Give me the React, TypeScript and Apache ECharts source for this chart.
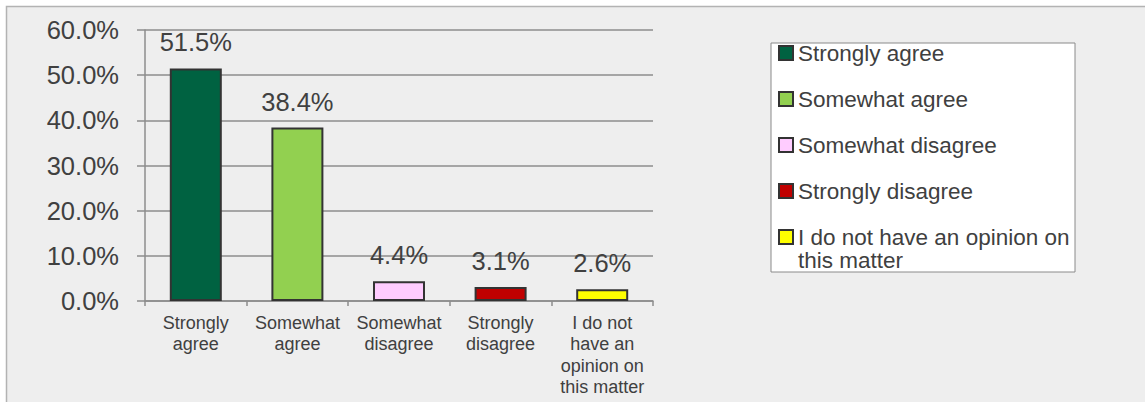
import React, { useEffect, useRef } from "react";
import * as echarts from "echarts";

const categories = [
  "Strongly\nagree",
  "Somewhat\nagree",
  "Somewhat\ndisagree",
  "Strongly\ndisagree",
  "I do not\nhave an\nopinion on\nthis matter",
];
const seriesNames = [
  "Strongly agree",
  "Somewhat agree",
  "Somewhat disagree",
  "Strongly disagree",
  "I do not have an opinion on this matter",
];
const values = [51.5, 38.4, 4.4, 3.1, 2.6];
const colors = ["#006241", "#92d050", "#ffccff", "#c00000", "#ffff00"];
const yTicks = { min: 0, max: 60, interval: 10 };

const FONT = "'Liberation Sans', Arial, sans-serif";
const TEXT = "#404040";

export default function App() {
  const ref = useRef<HTMLDivElement>(null);
  useEffect(() => {
    if (!ref.current) return;
    const chart = echarts.init(ref.current, null, { renderer: "svg" });
    const series = seriesNames.map((name, i) => ({
      name,
      type: "bar",
      stack: "all",
      barWidth: 52,
      data: values.map((v, j) => (j === i ? v : "-")),
      itemStyle: { color: colors[i], borderColor: "#333333", borderWidth: 2 },
      label: {
        show: true,
        position: "top",
        distance: 13,
        fontSize: 25.5,
        fontFamily: FONT,
        color: TEXT,
        formatter: (p: any) => `${Number(p.value).toFixed(1)}%`,
      },
    }));
    chart.setOption({
      animation: false,
      graphic: [
        {
          type: "rect",
          z: -10,
          shape: { x: 6.5, y: 6.5, width: 1300, height: 600 },
          style: { fill: "#eeeeee", stroke: "#b3b3b3", lineWidth: 1.5 },
        },
        {
          type: "rect",
          z: 1,
          shape: { x: 771, y: 43, width: 304, height: 229 },
          style: { fill: "#ffffff", stroke: "#8a8a8a", lineWidth: 1 },
        },
      ],
      grid: { left: 145, right: 492, top: 30, bottom: 101, containLabel: false },
      legend: [
        {
          orient: "vertical",
          left: 778,
          top: 41.5,
          padding: 0,
          itemGap: 23,
          itemWidth: 14,
          itemHeight: 14,
          icon: "rect",
          data: seriesNames.slice(0, 4),
          textStyle: { fontSize: 22.5, lineHeight: 23, fontFamily: FONT, color: TEXT },
          selectedMode: false,
        },
        {
          orient: "vertical",
          left: 778,
          top: 202.5,
          padding: 0,
          itemWidth: 14,
          itemHeight: 14,
          icon: "rect",
          data: seriesNames.slice(4),
          formatter: () => "\nI do not have an opinion on\nthis matter",
          textStyle: { fontSize: 22.5, lineHeight: 23, fontFamily: FONT, color: TEXT },
          selectedMode: false,
        },
      ],
      xAxis: {
        type: "category",
        data: categories,
        axisLine: { show: true, lineStyle: { color: "#8c8c8c", width: 1.5 } },
        axisTick: { show: true, length: 5, lineStyle: { color: "#8c8c8c", width: 1.5 } },
        axisLabel: {
          interval: 0,
          margin: 11,
          fontSize: 18,
          lineHeight: 21.5,
          fontFamily: FONT,
          color: TEXT,
        },
      },
      yAxis: {
        type: "value",
        min: yTicks.min,
        max: yTicks.max,
        interval: yTicks.interval,
        axisLine: { show: true, lineStyle: { color: "#8c8c8c", width: 1.5 } },
        axisTick: { show: true, length: 8, lineStyle: { color: "#8c8c8c", width: 1.5 } },
        splitLine: { show: true, lineStyle: { color: "#8c8c8c", width: 1.5 } },
        axisLabel: {
          margin: 26,
          fontSize: 25.5,
          fontFamily: FONT,
          color: TEXT,
          formatter: (v: number) => `${v.toFixed(1)}%`,
        },
      },
      series,
    });
    return () => chart.dispose();
  }, []);
  return (
    <div
      ref={ref}
      style={{ position: "fixed", left: 0, top: 0, width: 1145, height: 402, background: "#ffffff" }}
    />
  );
}
